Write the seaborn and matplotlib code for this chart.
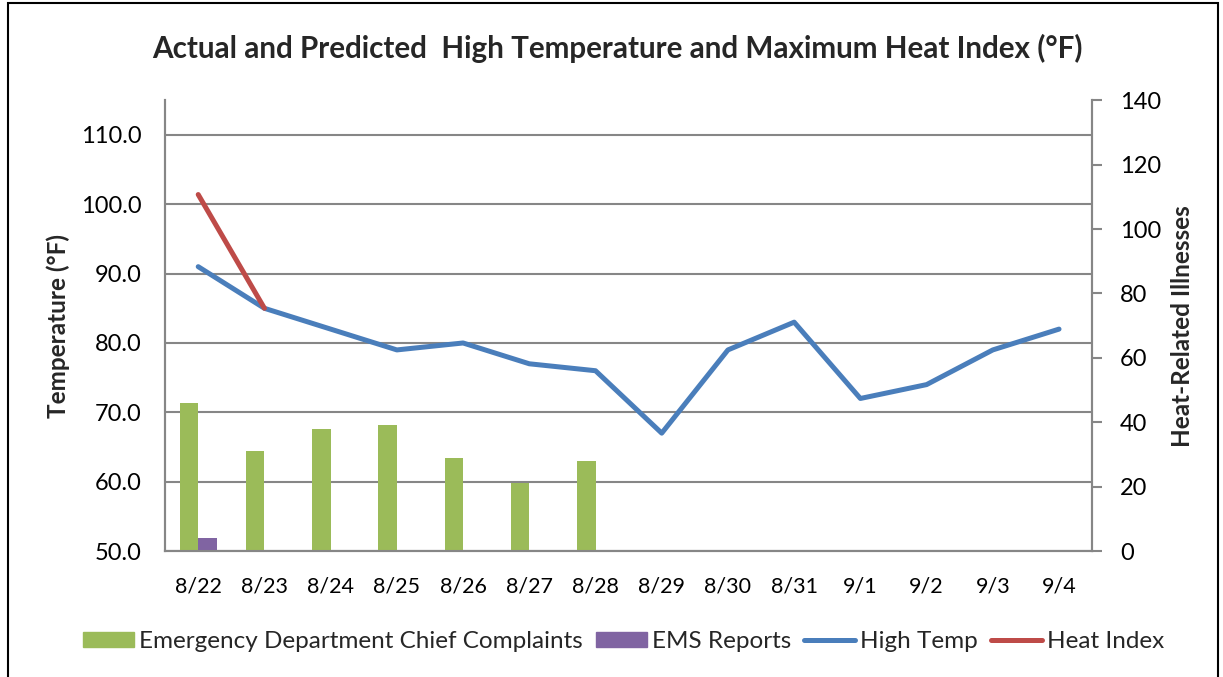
import numpy as np
import pandas as pd
import matplotlib
matplotlib.use("Agg")
import matplotlib.pyplot as plt
from matplotlib.patches import Patch, Rectangle
from matplotlib.lines import Line2D
import seaborn as sns

# data
dates = ["8/22", "8/23", "8/24", "8/25", "8/26", "8/27", "8/28",
         "8/29", "8/30", "8/31", "9/1", "9/2", "9/3", "9/4"]
high_temp = [91, 85, 82, 79, 80, 77, 76, 67, 79, 83, 72, 74, 79, 82]
heat_index = [101.4, 85]
ed_complaints = [46, 31, 38, 39, 29, 21, 28]
ems_reports = [4]

green = "#9BBB59"
purple = "#8064A2"
blue = "#4A7EBB"
red = "#BE4B48"
gray = "#868686"

sns.set_theme(style="white")
plt.rcParams["font.family"] = ["Lato", "DejaVu Sans"]

# long table for the bars
bars = pd.DataFrame({
    "date": dates[:len(ed_complaints)] + dates[:len(ems_reports)],
    "count": ed_complaints + ems_reports,
    "source": ["Emergency Department Chief Complaints"] * len(ed_complaints)
              + ["EMS Reports"] * len(ems_reports),
})
xpos = np.arange(len(dates))

fig = plt.figure(figsize=(12.23, 6.77), dpi=100)
ax = fig.add_axes([0.135, 0.186, 0.758, 0.666])
ax2 = ax.twinx()

# temperature lines on left axis
sns.lineplot(x=xpos, y=high_temp, ax=ax, color=blue, lw=3.6, zorder=3)
sns.lineplot(x=xpos[:len(heat_index)], y=heat_index, ax=ax, color=red, lw=3.6, zorder=4)

# bars on right axis
sns.barplot(data=bars, x="date", y="count", hue="source", order=dates,
            hue_order=["Emergency Department Chief Complaints", "EMS Reports"],
            palette=[green, purple], width=0.56, ax=ax2, legend=False,
            edgecolor="none", saturation=1)

ax.set_xlim(-0.5, len(dates) - 0.5)
ax.set_ylim(50, 115)
ax.set_yticks(np.arange(50, 111, 10))
ax.set_yticklabels([f"{v:.1f}" for v in np.arange(50, 111, 10)])
ax2.set_ylim(0, 140)
ax2.set_yticks(np.arange(0, 141, 20))
ax.set_xticks(xpos)
ax.set_xticklabels(dates)

ax.yaxis.grid(True, color=gray, lw=1.5)
ax.xaxis.grid(False)
ax.set_axisbelow(True)

for a in (ax, ax2):
    a.spines["top"].set_visible(False)
    for s in ("left", "right", "bottom"):
        a.spines[s].set_color(gray)
        a.spines[s].set_linewidth(1.5)
    a.set_xlabel("")

ax.tick_params(axis="x", length=0, pad=18, labelsize=15.5, colors="black")
ax.tick_params(axis="y", length=0, pad=17, labelsize=17, colors="black")
ax2.tick_params(axis="y", length=7, width=1.5, color=gray, pad=13, labelsize=17, labelcolor="black", direction="out")

ax.set_ylabel("Temperature (°F)", fontsize=17.5, fontweight="bold", labelpad=8)
ax2.set_ylabel("Heat-Related Illnesses", fontsize=17.5, fontweight="bold", labelpad=7)

fig.text(0.505, 1 - 48 / 677, "Actual and Predicted  High Temperature and Maximum Heat Index (°F)",
         ha="center", va="center", fontsize=21.3, fontweight="bold")

handles = [Patch(color=green), Patch(color=purple),
           Line2D([], [], color=blue, lw=3.6), Line2D([], [], color=red, lw=3.6)]
labels = ["Emergency Department Chief Complaints", "EMS Reports", "High Temp", "Heat Index"]
fig.legend(handles, labels, loc="center", bbox_to_anchor=(0.51, 0.052), ncol=4,
           frameon=False, fontsize=17.5, handlelength=2.1, handleheight=0.6,
           handletextpad=0.2, columnspacing=0.55)

# outer chart frame
fig.add_artist(Rectangle((8 / 1223, -0.05), 1210 / 1223, 1.045, transform=fig.transFigure,
                         fill=False, edgecolor="black", lw=1.5))

fig.savefig("out.png", dpi=100)
